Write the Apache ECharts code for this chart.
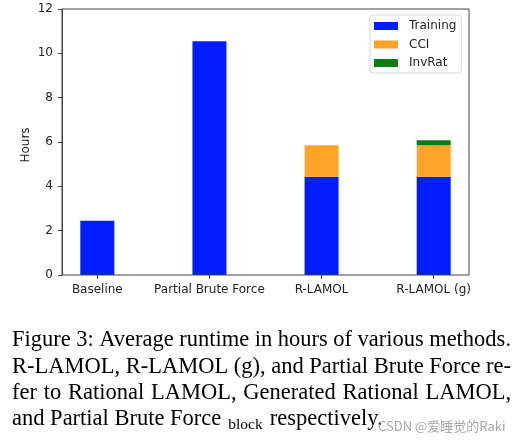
<!DOCTYPE html>
<html><head><meta charset="utf-8">
<script src="https://cdn.jsdelivr.net/npm/echarts@6/dist/echarts.min.js"></script>
<style>html,body{margin:0;padding:0;background:#fff}#c{width:524px;height:440px}</style>
</head><body><div id="c"></div>
<script>
const categories = ['Baseline', 'Partial Brute Force', 'R-LAMOL', 'R-LAMOL (g)'];
const training = [2.45, 10.54, 4.43, 4.43];
const cci = [null, null, 1.42, 1.42];
const invrat = [null, null, null, 0.23];
const seriesNames = ['Training', 'CCI', 'InvRat'];
const yTicks = [0, 2, 4, 6, 8, 10, 12];
const captionLines = [
  'Figure 3: Average runtime in hours of various methods.',
  'R-LAMOL, R-LAMOL (g), and Partial Brute Force re-',
  'fer to Rational LAMOL, Generated Rational LAMOL,'
];
const captionLast = ['and Partial Brute Force', 'block', 'respectively.'];
const watermark = 'CSDN @爱睡觉的Raki';

const FONT = 'DejaVu Sans';
const SERIF = 'Liberation Serif';
const capSize = 22.5;
const subSize = 15.5;
const ctx = document.createElement('canvas').getContext('2d');
function measure(t, size) { ctx.font = size + 'px "' + SERIF + '"'; return ctx.measureText(t).width; }
function txt(x, yBase, text, size) {
  return { type: 'text', x: x, y: yBase + 0.27 * size, style: { text: text, font: size + 'px "' + SERIF + '"', fill: '#000', verticalAlign: 'bottom', textVerticalAlign: 'bottom' } };
}

const graphics = [];
const capLeft = 12, capRight = 511;
const baselines = [346, 372.5, 399, 425];
captionLines.forEach((line, li) => {
  const words = line.split(' ');
  const widths = words.map(w => measure(w, capSize));
  const total = widths.reduce((a, b) => a + b, 0);
  const gap = (capRight - capLeft - total) / (words.length - 1);
  let x = capLeft;
  words.forEach((w, wi) => { graphics.push(txt(x, baselines[li], w, capSize)); x += widths[wi] + gap; });
});
(function () {
  let x = capLeft;
  const y = baselines[3];
  graphics.push(txt(x, y, captionLast[0], capSize));
  x += measure(captionLast[0], capSize) + 7;
  graphics.push(txt(x, y + 4, captionLast[1], subSize));
  x += measure(captionLast[1], subSize) + 7;
  graphics.push(txt(x, y, captionLast[2], capSize));
  graphics.push({ type: 'text', x: 378, y: 426, z: 10, style: { text: watermark, font: '13px "Noto Sans CJK SC"', fill: 'rgba(150,150,150,0.85)', verticalAlign: 'middle', textVerticalAlign: 'middle' } });
})();

// plot frame geometry (matplotlib-like x margins: data range -0.315..3.315)
const W = 524;
const plotL = 62, plotR = 469, plotT = 9, plotB = 275;
const xMin = -0.315, xMax = 3.315;
const pxPerUnit = (plotR - plotL) / (xMax - xMin);
const catL = plotL + (-0.5 - xMin) * pxPerUnit;
const catR = catL + categories.length * pxPerUnit;

// y-axis title
graphics.push({ type: 'text', x: 26, y: (plotT + plotB) / 2 + 3, rotation: Math.PI / 2, style: { text: 'Hours', font: '12px "' + FONT + '"', fill: '#222', align: 'center', textAlign: 'center', verticalAlign: 'middle', textVerticalAlign: 'middle' } });

const chart = echarts.init(document.getElementById('c'), null, { renderer: 'canvas' });
const colors = ['#001cff', '#ffa428', '#0b7d14'];
const barW = 34;
const axisColor = '#444', labelColor = '#222';
chart.setOption({
  animation: false,
  backgroundColor: '#fff',
  textStyle: { fontFamily: FONT },
  grid: [
    { left: plotL, right: W - plotR, top: plotT, bottom: 440 - plotB, show: true, borderColor: axisColor, borderWidth: 1, z: 5 },
    { left: catL, right: W - catR, top: plotT, bottom: 440 - plotB, show: false }
  ],
  legend: {
    data: seriesNames, orient: 'vertical', left: 370, top: 15, icon: 'rect', itemWidth: 24, itemHeight: 8, itemGap: 4.5,
    padding: [4, 5, 3, 4], borderColor: '#d8d8d8', borderWidth: 1, borderRadius: 3, backgroundColor: '#fff',
    textStyle: { fontFamily: FONT, fontSize: 12, color: labelColor, lineHeight: 14, padding: [0, 0, 0, 6] }
  },
  xAxis: [
    { gridIndex: 0, type: 'category', data: categories, show: false },
    {
      gridIndex: 1, type: 'category', data: categories,
      axisLine: { show: false },
      axisTick: { show: true, alignWithLabel: true, length: 4, lineStyle: { color: axisColor } },
      axisLabel: { fontFamily: FONT, fontSize: 12, color: labelColor, margin: 9, interval: 0 },
      splitLine: { show: false }
    }
  ],
  yAxis: [
    {
      gridIndex: 0, type: 'value', min: yTicks[0], max: yTicks[yTicks.length - 1], interval: yTicks[1] - yTicks[0],
      axisLine: { show: true, lineStyle: { color: axisColor } },
      axisTick: { show: true, length: 4, lineStyle: { color: axisColor } },
      axisLabel: { fontFamily: FONT, fontSize: 12, color: labelColor, margin: 9 },
      splitLine: { show: false }
    },
    { gridIndex: 1, type: 'value', min: yTicks[0], max: yTicks[yTicks.length - 1], show: false, splitLine: { show: false } }
  ],
  series: [
    { name: seriesNames[0], type: 'bar', xAxisIndex: 1, yAxisIndex: 1, stack: 'total', barWidth: barW, data: training, itemStyle: { color: colors[0] } },
    { name: seriesNames[1], type: 'bar', xAxisIndex: 1, yAxisIndex: 1, stack: 'total', barWidth: barW, data: cci, itemStyle: { color: colors[1] } },
    { name: seriesNames[2], type: 'bar', xAxisIndex: 1, yAxisIndex: 1, stack: 'total', barWidth: barW, data: invrat, itemStyle: { color: colors[2] } }
  ],
  graphic: graphics
});
</script></body></html>
